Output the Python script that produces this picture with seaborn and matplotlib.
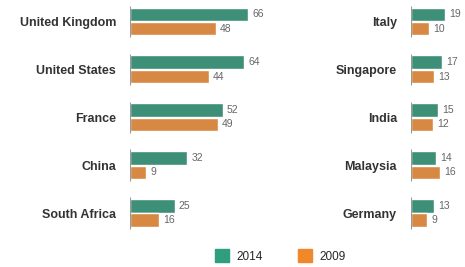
import pandas as pd
import matplotlib.pyplot as plt
import seaborn as sns
from matplotlib.patches import Patch

sns.set_style("white")
plt.rcParams['font.family'] = ['Liberation Sans', 'DejaVu Sans']

# Datos
paises_izq = ['United Kingdom', 'United States', 'France', 'China', 'South Africa']
v2014_izq = [66, 64, 52, 32, 25]
v2009_izq = [48, 44, 49, 9, 16]

paises_der = ['Italy', 'Singapore', 'India', 'Malaysia', 'Germany']
v2014_der = [19, 17, 15, 14, 13]
v2009_der = [10, 13, 12, 16, 9]

anios = ['2014', '2009']
colores = {'2014': '#2f9e7d', '2009': '#f0882a'}


def armar(paises, a, b):
    return pd.DataFrame({
        'pais': paises * 2,
        'valor': a + b,
        'anio': ['2014'] * len(paises) + ['2009'] * len(paises),
    })


fig = plt.figure(figsize=(4.65, 2.67), dpi=100)
W, H = 465, 267
ax1 = fig.add_axes([130 / W, 30 / H, 134 / W, 237 / H])
ax2 = fig.add_axes([411 / W, 30 / H, 54 / W, 237 / H])

for ax, paises, a, b, xmax in [(ax1, paises_izq, v2014_izq, v2009_izq, 75),
                               (ax2, paises_der, v2014_der, v2009_der, 30)]:
    df = armar(paises, a, b)
    sns.barplot(data=df, y='pais', x='valor', hue='anio', order=paises,
                hue_order=anios, palette=colores, width=0.6, gap=0.06,
                orient='h', legend=False, ax=ax)
    for c in ax.containers:
        ax.bar_label(c, fmt='%d', padding=3, fontsize=7.5, color='#666666')
    # linea base corta por grupo
    for i in range(len(paises)):
        ax.vlines(0, i - 0.33, i + 0.33, color='#999999', lw=0.8, zorder=3)
    ax.set_xlim(0, xmax)
    ax.set_ylim(4.5, -0.45)
    ax.set_xlabel('')
    ax.set_ylabel('')
    ax.set_xticks([])
    sns.despine(ax=ax, left=True, bottom=True)
    ax.tick_params(axis='y', length=0, pad=10)
    for t in ax.get_yticklabels():
        t.set_fontsize(9)
        t.set_fontweight('bold')
        t.set_color('#333333')

handles = [Patch(color=colores[k], label=k) for k in anios]
fig.legend(handles=handles, loc='center', bbox_to_anchor=(280 / W, 1 - 256 / H),
           ncol=2, frameon=False, fontsize=8.5, handlelength=1.2, handleheight=1.2,
           columnspacing=3, handletextpad=0.6)

plt.savefig('out.png', dpi=100, facecolor='white')
